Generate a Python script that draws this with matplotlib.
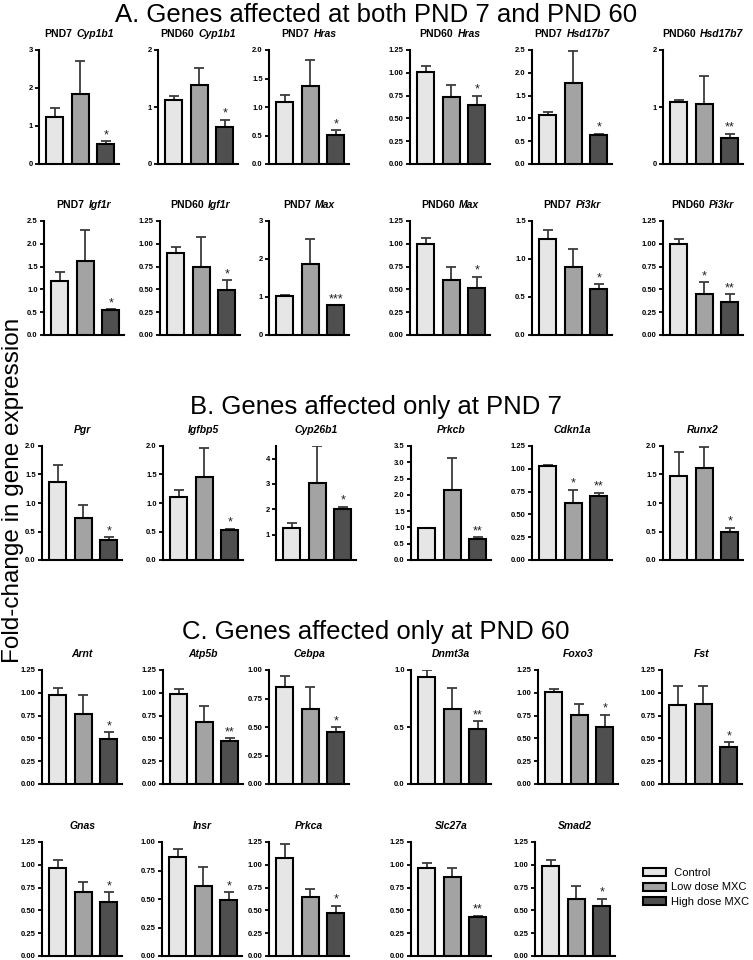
import matplotlib
matplotlib.use("Agg")
import matplotlib.pyplot as plt
from matplotlib.offsetbox import TextArea, HPacker, AnchoredOffsetbox
from matplotlib.patches import Patch

plt.rcParams['font.family'] = ['Liberation Sans', 'DejaVu Sans']

# ---------------- data ----------------
groups = ["Control", "Low dose MXC", "High dose MXC"]
legend_labels = [" Control", "Low dose MXC", "High dose MXC"]

section_titles = ["A. Genes affected at both PND 7 and PND 60",
                  "B. Genes affected only at PND 7",
                  "C. Genes affected only at PND 60"]
ylabel_text = "Fold-change in gene expression"

prefixes = ["PND7", "PND60", "PND7", "PND60", "PND7", "PND60",
            "PND7", "PND60", "PND7", "PND60", "PND7", "PND60",
            "", "", "", "", "", "",
            "", "", "", "", "", "",
            "", "", "", "", ""]
genes = ["Cyp1b1", "Cyp1b1", "Hras", "Hras", "Hsd17b7", "Hsd17b7",
         "Igf1r", "Igf1r", "Max", "Max", "Pi3kr", "Pi3kr",
         "Pgr", "Igfbp5", "Cyp26b1", "Prkcb", "Cdkn1a", "Runx2",
         "Arnt", "Atp5b", "Cebpa", "Dnmt3a", "Foxo3", "Fst",
         "Gnas", "Insr", "Prkca", "Slc27a", "Smad2"]

control = [1.25, 1.13, 1.08, 1.01, 1.07, 1.08,
           1.18, 0.90, 1.03, 1.00, 1.26, 1.00,
           1.37, 1.10, 1.27, 0.98, 1.03, 1.47,
           0.98, 0.99, 0.85, 0.94, 1.01, 0.87,
           0.97, 0.87, 1.08, 0.97, 0.99]
control_top = [1.48, 1.20, 1.21, 1.07, 1.15, 1.12,
               1.38, 0.97, 1.05, 1.06, 1.38, 1.05,
               1.67, 1.22, 1.45, 0.99, 1.04, 1.90,
               1.05, 1.04, 0.95, 1.00, 1.04, 1.07,
               1.05, 0.94, 1.23, 1.02, 1.05]
low = [1.85, 1.38, 1.36, 0.73, 1.78, 1.05,
       1.62, 0.75, 1.88, 0.60, 0.90, 0.45,
       0.74, 1.46, 3.02, 2.15, 0.63, 1.62,
       0.77, 0.68, 0.66, 0.66, 0.76, 0.88,
       0.70, 0.61, 0.65, 0.87, 0.62]
low_top = [2.70, 1.68, 1.83, 0.87, 2.48, 1.55,
           2.30, 1.07, 2.53, 0.75, 1.13, 0.58,
           0.96, 1.97, 4.50, 3.12, 0.77, 1.99,
           0.98, 0.86, 0.85, 0.84, 0.88, 1.08,
           0.81, 0.78, 0.73, 0.96, 0.77]
high = [0.52, 0.65, 0.51, 0.65, 0.63, 0.45,
        0.55, 0.49, 0.78, 0.52, 0.61, 0.36,
        0.35, 0.52, 2.00, 0.65, 0.70, 0.50,
        0.49, 0.47, 0.46, 0.48, 0.63, 0.41,
        0.59, 0.49, 0.47, 0.43, 0.55]
high_top = [0.60, 0.78, 0.59, 0.75, 0.66, 0.53,
            0.56, 0.60, 0.79, 0.64, 0.67, 0.45,
            0.40, 0.55, 2.10, 0.70, 0.74, 0.57,
            0.57, 0.50, 0.50, 0.55, 0.76, 0.46,
            0.70, 0.56, 0.55, 0.44, 0.63]
sig_low = ["", "", "", "", "", "",
           "", "", "", "", "", "*",
           "", "", "", "", "*", "",
           "", "", "", "", "", "",
           "", "", "", "", ""]
sig_high = ["*", "*", "*", "*", "*", "**",
            "*", "*", "***", "*", "*", "**",
            "*", "*", "*", "**", "**", "*",
            "*", "**", "*", "**", "*", "*",
            "*", "*", "*", "**", "*"]
ymax = [3, 2, 2, 1.25, 2.5, 2,
        2.5, 1.25, 3, 1.25, 1.5, 1.25,
        2, 2, 4.5, 3.5, 1.25, 2,
        1.25, 1.25, 1.0, 1.0, 1.25, 1.25,
        1.25, 1.0, 1.25, 1.25, 1.25]
q = ["0.00", "0.25", "0.50", "0.75", "1.00", "1.25"]
h = ["0.0", "0.5", "1.0", "1.5", "2.0"]
ytick_labels = [["0", "1", "2", "3"], ["0", "1", "2"], h, q, h + ["2.5"], ["0", "1", "2"],
                h + ["2.5"], q, ["0", "1", "2", "3"], q, h[:4], q,
                h, h, ["1", "2", "3", "4"], h + ["2.5", "3.0", "3.5"], q, h,
                q, q, q[:5], ["0.0", "0.5", "1.0"], q, q,
                q, q[:5], q, q, q]

# ---------------- layout ----------------
W, H = 753, 960
fig = plt.figure(figsize=(W / 100, H / 100), dpi=100)
fig.patch.set_facecolor("white")

row_tops = [50, 221, 446, 670, 842]
ax_h = 114
ax_w = 80
row_lefts = [[39, 158, 269, 410, 532, 663],
             [44, 160, 269, 410, 532, 663],
             [42, 163, 276, 411, 532, 663],
             [42, 163, 269, 411, 538, 662],
             [42, 162, 269, 411, 535]]
bar_colors = ["#e6e6e6", "#a3a3a3", "#4f4f4f"]
err_color = "#3c3c3c"

idx = 0
for r, lefts in enumerate(row_lefts):
    for left in lefts:
        i = idx
        idx += 1
        ax = fig.add_axes([left / W, 1 - (row_tops[r] + ax_h) / H, ax_w / W, ax_h / H])
        vals = [control[i], low[i], high[i]]
        tops = [control_top[i], low_top[i], high_top[i]]
        xs = [0, 1, 2]
        ax.bar(xs, vals, width=0.68, color=bar_colors, edgecolor="black",
               linewidth=1.5, zorder=3)
        ax.errorbar(xs, vals, yerr=[[0, 0, 0], [t - v for t, v in zip(tops, vals)]],
                    fmt="none", ecolor=err_color, elinewidth=1.3, capsize=3.5,
                    capthick=1.3, zorder=2)
        for x, t, s in zip([1, 2], [tops[1], tops[2]], [sig_low[i], sig_high[i]]):
            if s:
                ax.annotate(s, xy=(x, t), xytext=(0, 0), textcoords="offset points",
                            ha="center", va="bottom", fontsize=9, color="#222222")
        ticks = [float(t) for t in ytick_labels[i]]
        ax.set_ylim(0, ymax[i])
        ax.set_xlim(-0.62, 2.52)
        ax.set_yticks(ticks)
        ax.set_yticklabels(ytick_labels[i], fontsize=5.5, fontweight="bold")
        ax.set_xticks([])
        for sp in ["top", "right"]:
            ax.spines[sp].set_visible(False)
        for sp in ["left", "bottom"]:
            ax.spines[sp].set_linewidth(1.5)
        ax.tick_params(axis="y", length=3, width=1.3, pad=1.5)
        ax.set_facecolor("none")
        # title
        kids = []
        if prefixes[i]:
            kids.append(TextArea(prefixes[i], textprops=dict(fontsize=7.5, fontweight="bold")))
        kids.append(TextArea(genes[i], textprops=dict(fontsize=7.5, fontweight="bold",
                                                      fontstyle="italic")))
        box = HPacker(children=kids, align="baseline", pad=0, sep=3)
        anc = AnchoredOffsetbox(loc="lower center", child=box, pad=0, borderpad=0,
                                frameon=False, bbox_to_anchor=(0.5, 1 + 11 / ax_h),
                                bbox_transform=ax.transAxes)
        ax.add_artist(anc)

# section titles
for txt, yc in zip(section_titles, [15, 407, 632]):
    fig.text(376 / W, 1 - yc / H, txt, ha="center", va="center", fontsize=18.5)

fig.text(13 / W, 1 - 490 / H, ylabel_text, rotation=90, ha="center", va="center",
         fontsize=17.5)

handles = [Patch(facecolor=c, edgecolor="black", linewidth=1.5) for c in bar_colors]
fig.legend(handles, legend_labels, loc="upper left",
           bbox_to_anchor=(643 / W, 1 - 868 / H), frameon=False, fontsize=8,
           handlelength=2.05, handleheight=0.75, labelspacing=0.4, handletextpad=0.45,
           borderpad=0, borderaxespad=0)

fig.savefig("out.png", dpi=100, facecolor="white")
